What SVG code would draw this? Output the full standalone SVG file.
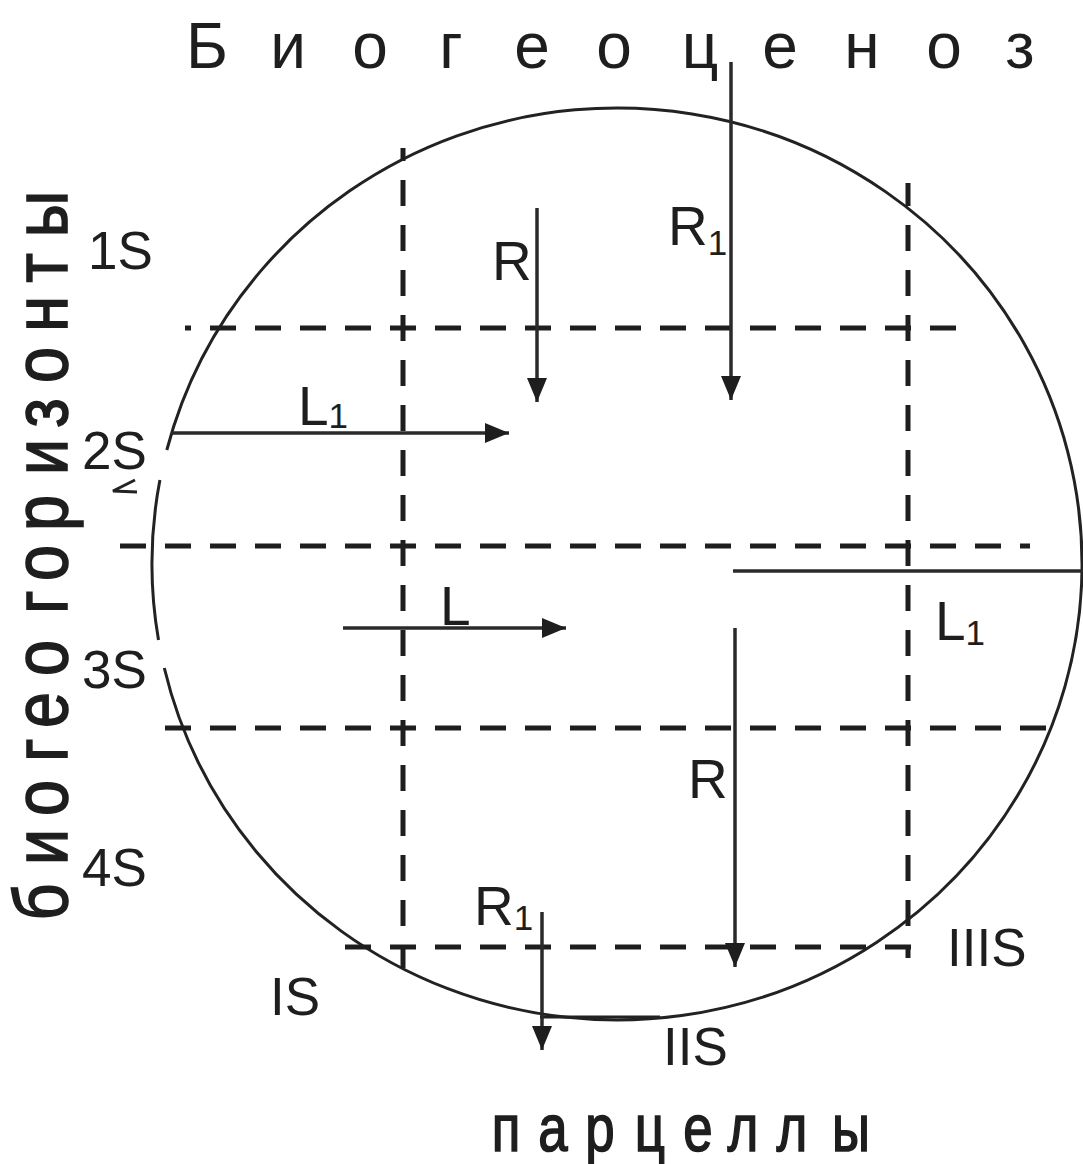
<svg xmlns="http://www.w3.org/2000/svg" width="1083" height="1164" viewBox="0 0 1083 1164">
  <defs>
    <marker id="ah" markerUnits="userSpaceOnUse" markerWidth="26" markerHeight="22" refX="24" refY="10" orient="auto">
      <path d="M0,0 L24,10 L0,20 z" fill="#1e1e1e"/>
    </marker>
  </defs>
  <style>
    .t { font-family: "Liberation Sans", Arial, sans-serif; fill: #1e1e1e; }
    .lbl { font-size: 55px; }
    .s { font-size: 53px; }
    .sub { font-size: 35px; }
    .dash { stroke: #1e1e1e; stroke-width: 5; stroke-dasharray: 26 19; fill: none; }
    .arr { stroke: #2a2a2a; stroke-width: 3.5; fill: none; }
    .circ { stroke: #222; stroke-width: 3; fill: none; }
    .bold { stroke: #1e1e1e; stroke-width: 1.6; }
  </style>
  <rect width="1083" height="1164" fill="#ffffff"/>

  <g id="biocenosis-circle">
    <path class="circ" d="M166.8,450 A465,456 0 1 1 164.3,668"/>
    <path class="circ" d="M159.9,480 A465,456 0 0 0 158.5,640"/>
    <line class="circ" x1="540" y1="1017" x2="660" y2="1017"/>
    <polyline class="circ" points="135,480 113,491 137,492" stroke-width="3.5"/>
  </g>

  <g id="grid-lines">
    <line class="dash" x1="185" y1="328" x2="962" y2="328" stroke-dashoffset="20"/>
    <line class="dash" x1="118" y1="546" x2="1030" y2="546" stroke-dashoffset="43"/>
    <line class="dash" x1="155" y1="728" x2="1060" y2="728" stroke-dashoffset="35"/>
    <line class="dash" x1="337" y1="947" x2="917" y2="947" stroke-dashoffset="37"/>
    <line class="dash" x1="403" y1="148" x2="403" y2="968" stroke-dashoffset="13"/>
    <line class="dash" x1="908" y1="183" x2="908" y2="958" stroke-dashoffset="3"/>
  </g>

  <g id="connectors">
    <line class="arr" x1="537" y1="208" x2="537" y2="402" marker-end="url(#ah)"/>
    <line class="arr" x1="731" y1="62" x2="731" y2="400" marker-end="url(#ah)"/>
    <line class="arr" x1="171" y1="433" x2="509" y2="433" marker-end="url(#ah)"/>
    <line class="arr" x1="343" y1="628" x2="566" y2="628" marker-end="url(#ah)"/>
    <line class="arr" x1="733" y1="571" x2="1083" y2="571"/>
    <line class="arr" x1="735" y1="628" x2="735" y2="967" marker-end="url(#ah)"/>
    <line class="arr" x1="542" y1="912" x2="542" y2="1050" marker-end="url(#ah)"/>
  </g>

  <g id="title">
    <text class="t" font-size="64" text-anchor="middle" y="68" x="207 288 370 451 532 614 700 780 862 944 1020">Биогеоценоз</text>
  </g>

  <g id="axis-vertical">
    <text class="t bold" font-size="76" text-anchor="middle" transform="translate(67,0) rotate(-90) scale(0.85,1)" y="0" x="-1061.2 -996.5 -938.8 -882.4 -835.3 -774.1 -708.2 -662.4 -603.5 -537.6 -485.9 -429.4 -369.4 -315.3 -251.8">биогеогоризонты</text>
  </g>

  <g id="axis-horizontal">
    <text class="t bold" font-size="66" text-anchor="middle" transform="scale(0.8,1)" y="1151" x="632.5 691.25 750 812.5 872.5 928.75 990 1063.75">парцеллы</text>
  </g>

  <g id="horizon-labels">
    <text class="t s" x="88" y="269">1S</text>
    <text class="t s" x="82" y="469">2S</text>
    <text class="t s" x="82" y="688">3S</text>
    <text class="t s" x="82" y="886">4S</text>
  </g>

  <g id="parcel-labels">
    <text class="t s" x="270" y="1015">IS</text>
    <text class="t s" x="663" y="1065">IIS</text>
    <text class="t s" x="947" y="966">IIIS</text>
  </g>

  <g id="flow-labels">
    <text class="t lbl" x="492" y="280">R</text>
    <text class="t lbl" x="668" y="245">R<tspan class="sub" dy="10">1</tspan></text>
    <text class="t lbl" x="298" y="425">L<tspan class="sub" dy="3">1</tspan></text>
    <text class="t lbl" x="440" y="625">L</text>
    <text class="t lbl" x="935" y="640">L<tspan class="sub" dy="5">1</tspan></text>
    <text class="t lbl" x="688" y="798">R</text>
    <text class="t lbl" x="474" y="925">R<tspan class="sub" dy="5">1</tspan></text>
  </g>
</svg>
